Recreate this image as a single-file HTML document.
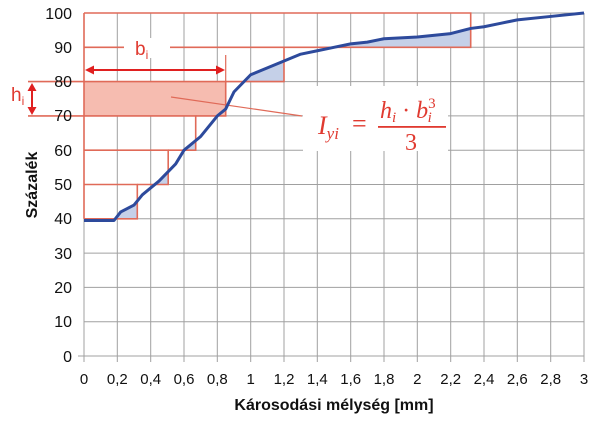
<!DOCTYPE html>
<html><head><style>
body{margin:0;background:#fff;width:600px;height:428px;overflow:hidden}
svg{display:block;font-family:"Liberation Sans",Arial,sans-serif}
</style></head><body>
<svg width="600" height="428" viewBox="0 0 600 428">
<defs>
<mask id="m" maskUnits="userSpaceOnUse" x="0" y="0" width="600" height="428">
<g transform="matrix(166.67,0,0,-3.43,84,356)">
<polygon fill="#fff" points="0,40 0.32,40 0.32,50 0.505,50 0.505,60 0.67,60 0.67,70 0.85,70 0.85,80 1.2,80 1.2,90 2.32,90 2.32,100 0,100"/>
<polygon fill="#000" points="0,39.5 0.18,39.5 0.22,42 0.3,44 0.35,47 0.45,51 0.55,56 0.6,60 0.7,64 0.8,70 0.85,72 0.9,77 1,82 1.1,84 1.2,86 1.3,88 1.4,89 1.5,90 1.6,91 1.7,91.5 1.8,92.5 2,93 2.2,94 2.32,95.5 2.4,96 2.5,97 2.6,98 2.8,99 3,100 3,101 0,101"/>
</g></mask>
</defs>
<!-- grid -->
<g stroke="#a0a0a0" stroke-width="1">
<line x1="84" y1="13" x2="584" y2="13"/><line x1="84" y1="47.3" x2="584" y2="47.3"/><line x1="84" y1="81.6" x2="584" y2="81.6"/><line x1="84" y1="115.9" x2="584" y2="115.9"/><line x1="84" y1="150.2" x2="584" y2="150.2"/><line x1="84" y1="184.5" x2="584" y2="184.5"/><line x1="84" y1="218.8" x2="584" y2="218.8"/><line x1="84" y1="253.1" x2="584" y2="253.1"/><line x1="84" y1="287.4" x2="584" y2="287.4"/><line x1="84" y1="321.7" x2="584" y2="321.7"/>
<line x1="117.3" y1="13" x2="117.3" y2="362"/><line x1="150.7" y1="13" x2="150.7" y2="362"/><line x1="184" y1="13" x2="184" y2="362"/><line x1="217.3" y1="13" x2="217.3" y2="362"/><line x1="250.7" y1="13" x2="250.7" y2="362"/><line x1="284" y1="13" x2="284" y2="362"/><line x1="317.3" y1="13" x2="317.3" y2="362"/><line x1="350.7" y1="13" x2="350.7" y2="362"/><line x1="384" y1="13" x2="384" y2="362"/><line x1="417.3" y1="13" x2="417.3" y2="362"/><line x1="450.7" y1="13" x2="450.7" y2="362"/><line x1="484" y1="13" x2="484" y2="362"/><line x1="517.3" y1="13" x2="517.3" y2="362"/><line x1="550.7" y1="13" x2="550.7" y2="362"/><line x1="584" y1="13" x2="584" y2="362"/>
<line x1="84" y1="13" x2="84" y2="362"/><line x1="78" y1="356" x2="584" y2="356"/>
</g>
<!-- blue shading -->
<rect x="84" y="13" width="500" height="343" fill="#c5d0e8" mask="url(#m)"/>
<!-- pink rect -->
<rect x="84" y="81.6" width="141.7" height="34.3" fill="#f6bcb0"/>
<!-- red step rects -->
<g fill="none" stroke="#e06a58" stroke-width="1.6">
<polyline points="84,218.8 137.3,218.8 137.3,184.5 84,184.5"/>
<polyline points="137.3,184.5 168.2,184.5 168.2,150.2 84,150.2"/>
<polyline points="168.2,150.2 195.7,150.2 195.7,115.9 84,115.9"/>
<polyline points="195.7,115.9 225.7,115.9 225.7,81.6 28,81.6"/>
<polyline points="225.7,81.6 284,81.6 284,47.3 84,47.3"/>
<polyline points="284,47.3 470.7,47.3 470.7,13 84,13"/>
<line x1="28" y1="115.9" x2="84" y2="115.9"/>
<line x1="84" y1="13" x2="84" y2="218.8"/>
<line x1="225.7" y1="55" x2="225.7" y2="81.6" stroke-width="1.2"/>
<line x1="171" y1="97" x2="302" y2="116" stroke-width="1.2"/>
</g>
<!-- b_i arrow -->
<g stroke="#e02020" stroke-width="2" fill="#e02020">
<line x1="90" y1="70" x2="219" y2="70"/>
<polygon points="85,70 94,65.5 94,74.5" stroke="none"/>
<polygon points="225,70 216,65.5 216,74.5" stroke="none"/>
<line x1="32" y1="88" x2="32" y2="110"/>
<polygon points="32,83 27.5,91 36.5,91" stroke="none"/>
<polygon points="32,115 27.5,107 36.5,107" stroke="none"/>
</g>
<rect x="124" y="38" width="46" height="20" fill="#fff"/>
<text x="135" y="55" font-size="19" fill="#e03a30">b<tspan font-size="12" dy="4">i</tspan></text>
<text x="11" y="101" font-size="19" fill="#e03a30">h<tspan font-size="12" dy="4">i</tspan></text>
<!-- curve -->
<g transform="matrix(166.67,0,0,-3.43,84,356)">
<polyline fill="none" stroke="#2d4a9c" stroke-width="3" vector-effect="non-scaling-stroke" stroke-linejoin="round" points="0,39.5 0.18,39.5 0.22,42 0.3,44 0.35,47 0.45,51 0.55,56 0.6,60 0.7,64 0.8,70 0.85,72 0.9,77 1,82 1.1,84 1.2,86 1.3,88 1.4,89 1.5,90 1.6,91 1.7,91.5 1.8,92.5 2,93 2.2,94 2.32,95.5 2.4,96 2.5,97 2.6,98 2.8,99 3,100"/>
</g>
<!-- formula -->
<rect x="303" y="86" width="145" height="65" fill="#fff"/>
<g fill="#e03a30" font-family="'Liberation Serif',serif" font-style="italic">
<text x="318" y="134" font-size="26">I<tspan font-size="17" dy="5">yi</tspan></text>
<text x="352" y="132" font-size="26" font-style="normal">=</text>
<text x="380" y="118" font-size="24">h<tspan font-size="15" dy="4">i</tspan><tspan dy="-4" font-style="normal"> · </tspan>b<tspan font-size="15" dy="-10" font-style="normal">3</tspan><tspan font-size="15" dx="-8" dy="14">i</tspan></text>
<rect x="378" y="126" width="68" height="1.8"/>
<text x="405" y="150" font-size="24" font-style="normal">3</text>
</g>
<!-- tick labels -->
<g font-size="16" fill="#111" text-anchor="end">
<text x="72" y="19">100</text><text x="72" y="53">90</text><text x="72" y="87">80</text><text x="72" y="121">70</text><text x="72" y="156">60</text><text x="72" y="190">50</text><text x="72" y="224">40</text><text x="72" y="259">30</text><text x="72" y="293">20</text><text x="72" y="327">10</text><text x="72" y="362">0</text>
</g>
<g font-size="15" fill="#111" text-anchor="middle">
<text x="84" y="384">0</text><text x="117.3" y="384">0,2</text><text x="150.7" y="384">0,4</text><text x="184" y="384">0,6</text><text x="217.3" y="384">0,8</text><text x="250.7" y="384">1</text><text x="284" y="384">1,2</text><text x="317.3" y="384">1,4</text><text x="350.7" y="384">1,6</text><text x="384" y="384">1,8</text><text x="417.3" y="384">2</text><text x="450.7" y="384">2,2</text><text x="484" y="384">2,4</text><text x="517.3" y="384">2,6</text><text x="550.7" y="384">2,8</text><text x="584" y="384">3</text>
</g>
<text x="334" y="410" font-size="16" font-weight="bold" text-anchor="middle" fill="#111">Károsodási mélység [mm]</text>
<text transform="translate(37,185) rotate(-90)" font-size="16" font-weight="bold" text-anchor="middle" fill="#111">Százalék</text>
</svg>
</body></html>
